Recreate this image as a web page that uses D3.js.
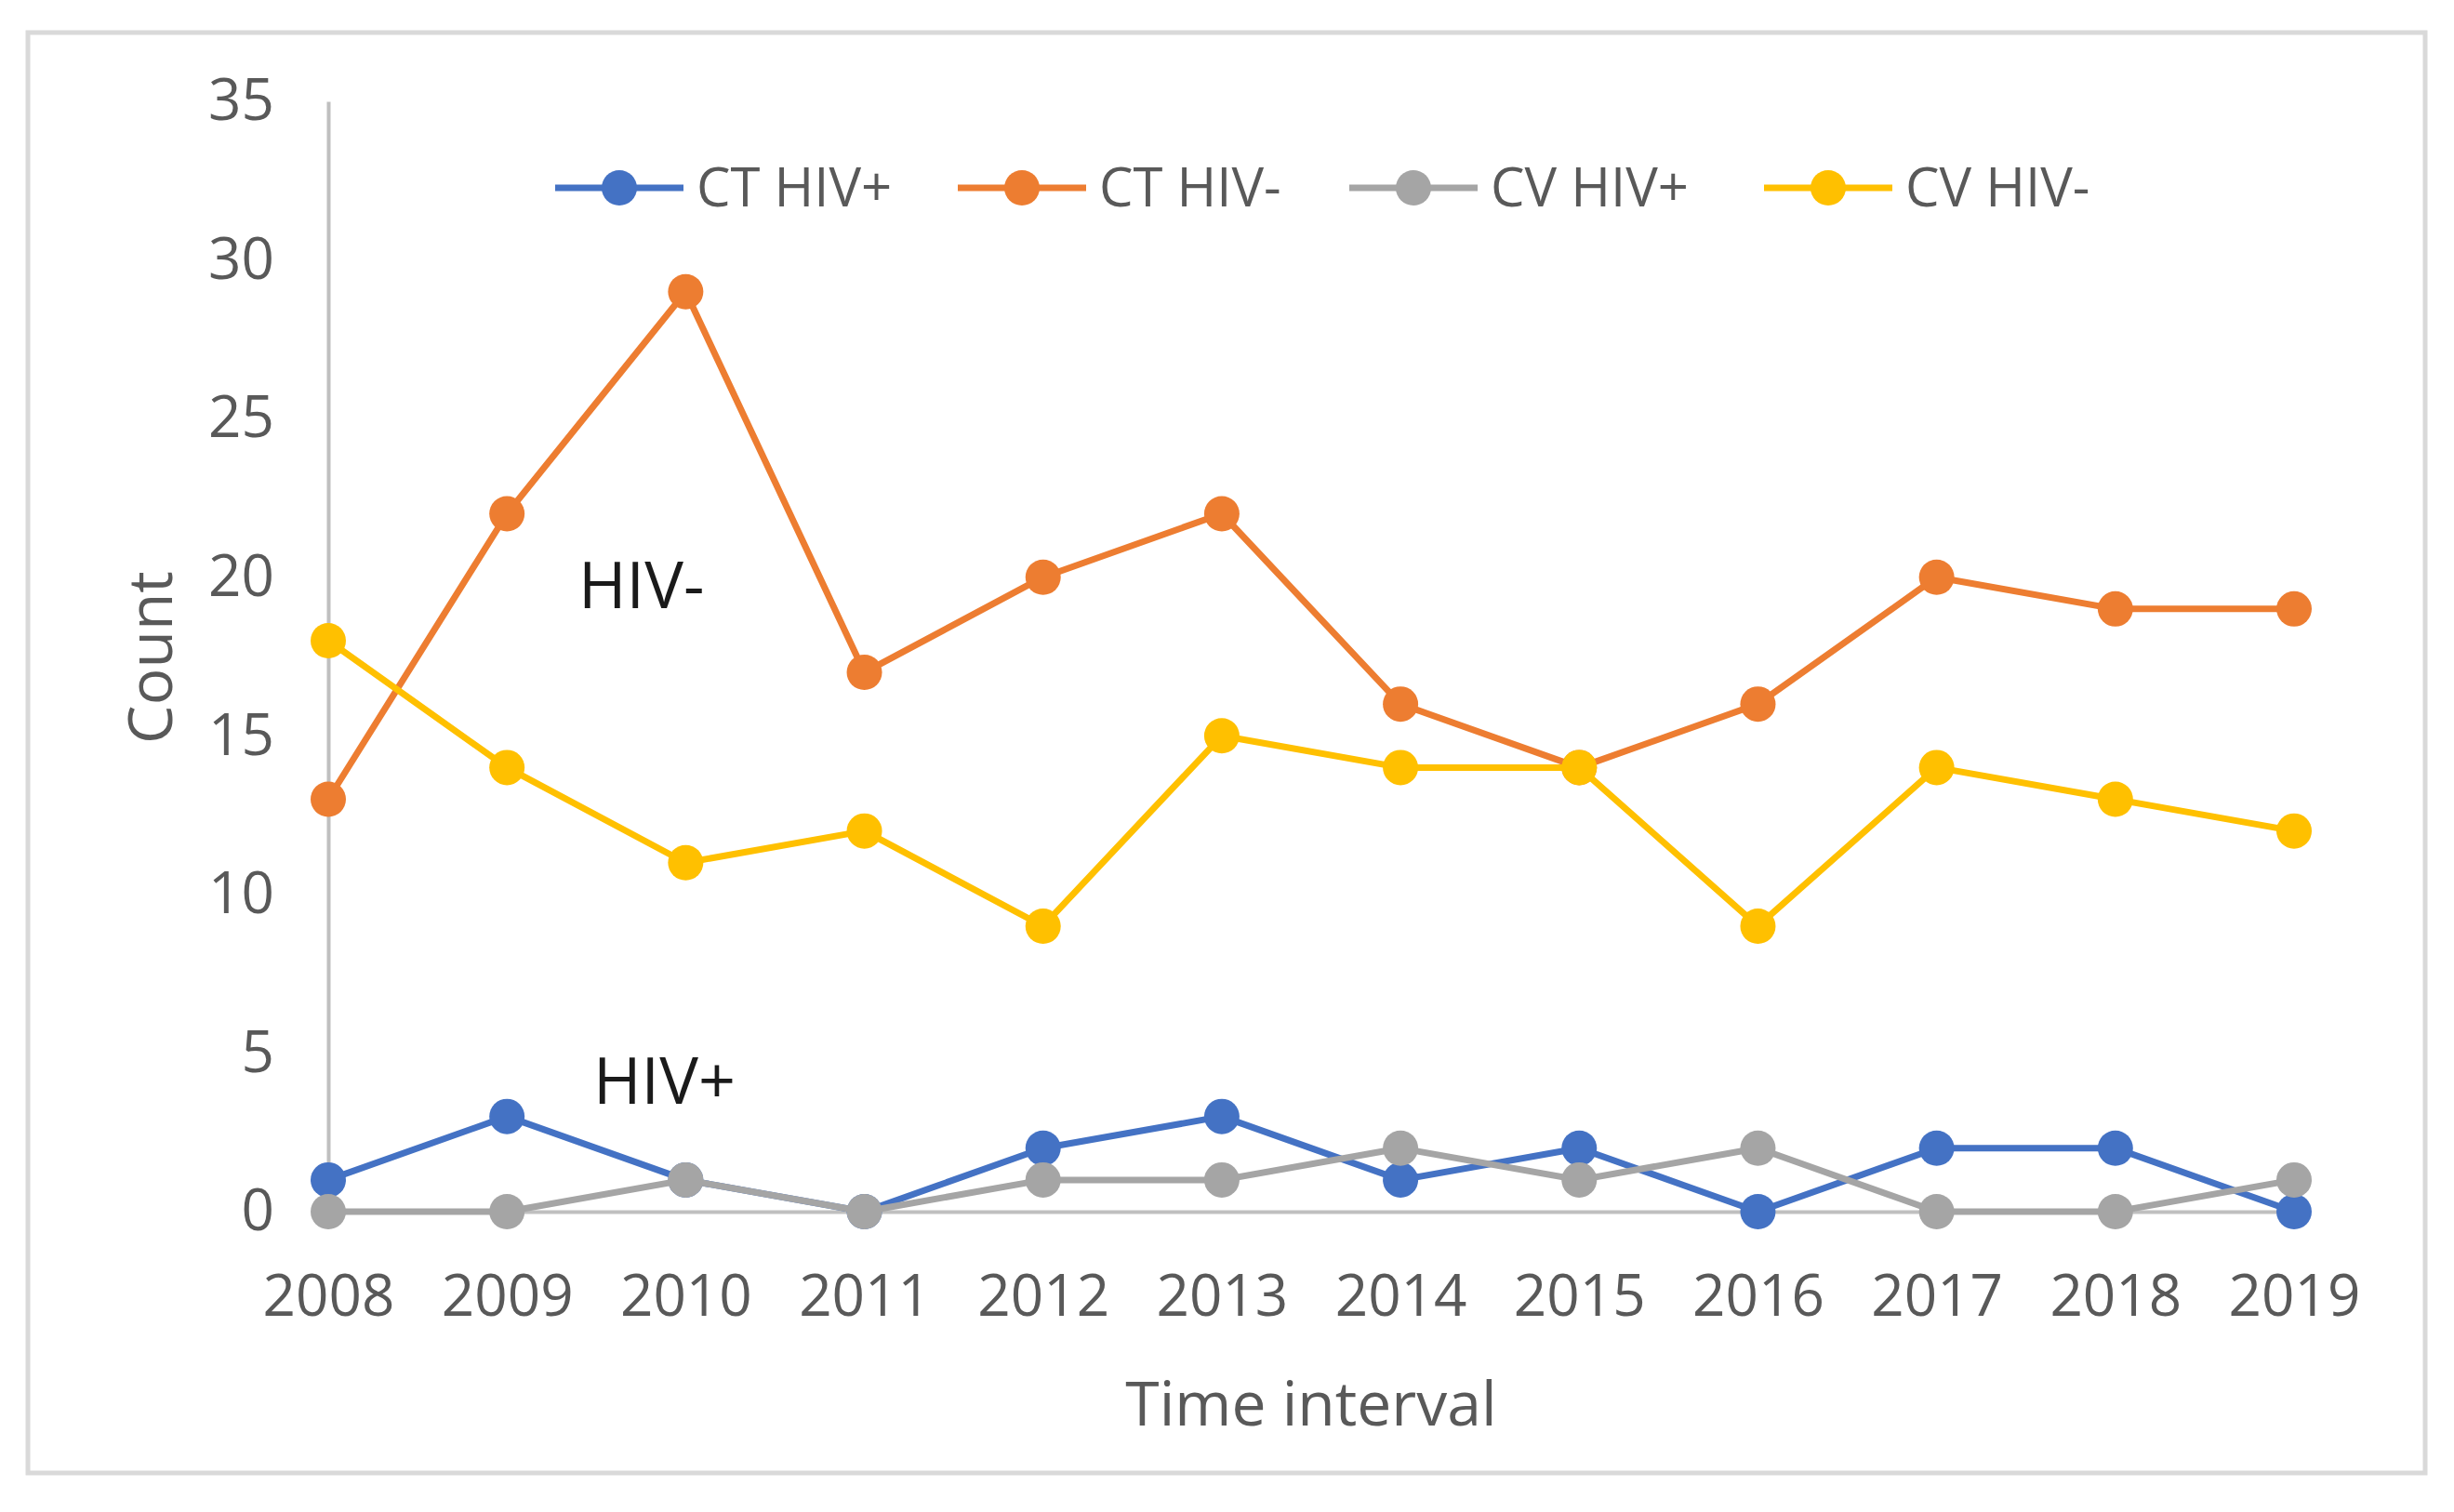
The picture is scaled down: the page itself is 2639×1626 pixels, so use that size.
<!DOCTYPE html>
<html>
<head>
<meta charset="utf-8">
<script src="https://cdn.jsdelivr.net/npm/d3@7"></script>
<style>
  body { margin: 0; background: #fff; }
  text { font-family: "Open Sans", sans-serif; }
</style>
</head>
<body>
<svg id="canvas" width="2639" height="1626"></svg>
<script>
var years = ["2008","2009","2010","2011","2012","2013","2014","2015","2016","2017","2018","2019"];
var ctHivPos = [1, 3, 1, 0, 2, 3, 1, 2, 0, 2, 2, 0];
var ctHivNeg = [13, 22, 29, 17, 20, 22, 16, 14, 16, 20, 19, 19];
var cvHivPos = [0, 0, 1, 0, 1, 1, 2, 1, 2, 0, 0, 1];
var cvHivNeg = [18, 14, 11, 12, 9, 15, 14, 14, 9, 14, 13, 12];
var yTicks = [0, 5, 10, 15, 20, 25, 30, 35];

var series = [
  { name: "CT HIV+", values: ctHivPos, color: "#4472C4" },
  { name: "CT HIV-", values: ctHivNeg, color: "#ED7D31" },
  { name: "CV HIV+", values: cvHivPos, color: "#A5A5A5" },
  { name: "CV HIV-", values: cvHivNeg, color: "#FFC000" }
];

var svg = d3.select("#canvas"),
  width = +svg.attr("width"),
  height = +svg.attr("height");

// chart border
svg.append("rect")
  .attr("x", 30).attr("y", 35)
  .attr("width", 2578).attr("height", 1549)
  .attr("fill", "#fff")
  .attr("stroke", "#d9d9d9")
  .attr("stroke-width", 5);

var x = d3.scalePoint().domain(years).range([353, 2467]);
var y = d3.scaleLinear().domain([0, 35]).range([1303, 109]);

// y axis
var yAxis = svg.append("g")
  .attr("transform", "translate(" + x(years[0]) + ",0)")
  .call(d3.axisLeft(y).tickValues(yTicks).tickSize(0).tickPadding(58));
yAxis.select(".domain").attr("stroke", "#bfbfbf").attr("stroke-width", 4);
yAxis.selectAll("text")
  .attr("fill", "#595959")
  .style("font-size", "62px")
  .style("font-family", "'Open Sans', sans-serif");

// x axis
var xAxis = svg.append("g")
  .attr("transform", "translate(0," + y(0) + ")")
  .call(d3.axisBottom(x).tickSize(0).tickPadding(68));
xAxis.select(".domain").attr("stroke", "#bfbfbf").attr("stroke-width", 4);
xAxis.selectAll("text")
  .attr("fill", "#595959")
  .style("font-size", "62px")
  .style("font-family", "'Open Sans', sans-serif");

// axis titles
svg.append("text")
  .attr("transform", "translate(185,707) rotate(-90)")
  .attr("text-anchor", "middle")
  .attr("fill", "#595959")
  .style("font-size", "66px")
  .text("Count");

svg.append("text")
  .attr("x", 1410).attr("y", 1533)
  .attr("text-anchor", "middle")
  .attr("fill", "#595959")
  .style("font-size", "66px")
  .text("Time interval");

// lines and markers
var line = d3.line()
  .x(function(d, i) { return x(years[i]); })
  .y(function(d) { return y(d); });

series.forEach(function(s) {
  svg.append("path")
    .datum(s.values)
    .attr("d", line)
    .attr("fill", "none")
    .attr("stroke", s.color)
    .attr("stroke-width", 7)
    .attr("stroke-linejoin", "round");

  svg.selectAll(null)
    .data(s.values)
    .enter().append("circle")
    .attr("cx", function(d, i) { return x(years[i]); })
    .attr("cy", function(d) { return y(d); })
    .attr("r", 19)
    .attr("fill", s.color);
});

// annotations
svg.append("text")
  .attr("x", 622).attr("y", 654)
  .attr("fill", "#1a1a1a")
  .style("font-size", "70px")
  .text("HIV-");

svg.append("text")
  .attr("x", 638).attr("y", 1187)
  .attr("fill", "#1a1a1a")
  .style("font-size", "70px")
  .text("HIV+");

// legend
var legendX = [597, 1030, 1451, 1897];
var legend = svg.selectAll(".legend")
  .data(series)
  .enter().append("g")
  .attr("class", "legend")
  .attr("transform", function(d, i) { return "translate(" + legendX[i] + ",202)"; });

legend.append("line")
  .attr("x1", 0).attr("x2", 138)
  .attr("stroke", function(d) { return d.color; })
  .attr("stroke-width", 7);

legend.append("circle")
  .attr("cx", 69).attr("r", 19)
  .attr("fill", function(d) { return d.color; });

legend.append("text")
  .attr("x", 152)
  .attr("dy", "0.35em")
  .attr("fill", "#595959")
  .style("font-size", "58px")
  .text(function(d) { return d.name; });
</script>
</body>
</html>
